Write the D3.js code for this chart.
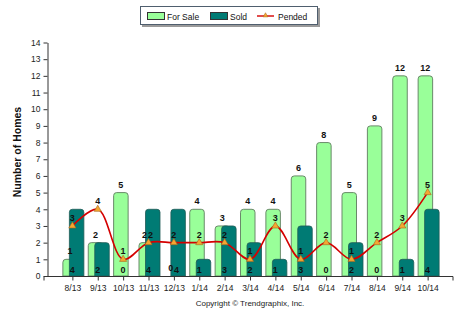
<!DOCTYPE html>
<html><head><meta charset="utf-8">
<script src="https://cdn.jsdelivr.net/npm/d3@7"></script>
<style>body{margin:0;background:#fff}svg{display:block}text{font-family:"Liberation Sans",Arial,sans-serif}</style>
</head><body><svg id="c" width="475" height="324"></svg>
<script>
const categories = ["8/13","9/13","10/13","11/13","12/13","1/14","2/14","3/14","4/14","5/14","6/14","7/14","8/14","9/14","10/14"];
const forSale = [1,2,5,2,0,4,3,4,4,6,8,5,9,12,12];
const sold    = [4,2,0,4,4,1,3,2,1,3,0,2,0,1,4];
const pended  = [3,4,1,2,2,2,2,1,3,1,2,1,2,3,5];
const yTicks = d3.range(0,15);

const svg = d3.select("#c");
const x = d3.scalePoint().domain(categories).range([47,453]).padding(1);
const y = d3.scaleLinear().domain([0,14]).range([276,42.5]);
const greenFill="#99FF99", greenStroke="#6a8a6a", teal="#007B74", tealStroke="#1f5a56";

function topRounded(x0,w,yTop,yBot,r){
  r=Math.min(r,(yBot-yTop),w/2);
  return `M${x0},${yBot}V${yTop+r}Q${x0},${yTop} ${x0+r},${yTop}H${x0+w-r}Q${x0+w},${yTop} ${x0+w},${yTop+r}V${yBot}Z`;
}

// axes
const yAxis = d3.axisLeft(y).tickValues(yTicks).tickSize(4).tickSizeOuter(0);
const gy = svg.append("g").attr("transform","translate(47.5,0)").call(yAxis);
gy.selectAll("text").attr("font-size","8.5px").attr("fill","#222").attr("x",-7);
gy.selectAll("line,path").attr("stroke","#333");

// bars
const bars = svg.append("g");
categories.forEach((c,i)=>{
  const cx=x(c);
  if(forSale[i]>0) bars.append("path").attr("d",topRounded(cx-9.5,14.5,y(forSale[i]),y(0),3))
    .attr("fill",greenFill).attr("stroke",greenStroke).attr("stroke-width",1);
});
categories.forEach((c,i)=>{
  const cx=x(c);
  if(sold[i]>0) bars.append("path").attr("d",topRounded(cx-3,14.5,y(sold[i]),y(0),3))
    .attr("fill",teal).attr("stroke",tealStroke).attr("stroke-width",0.8);
});

const xAxis = d3.axisBottom(x).tickSize(4).tickSizeOuter(4);
const gx = svg.append("g").attr("transform","translate(0,276.5)").call(xAxis);
gx.select("path.domain").attr("d","M44,4V0H453V4");
gx.selectAll("text").attr("font-size","8.5px").attr("fill","#222").attr("dy","0.9em");
gx.selectAll("line,path").attr("stroke","#333");

// pended line
const line = d3.line().x((d,i)=>x(categories[i])).y(d=>y(d)).curve(d3.curveCatmullRom.alpha(0.5));
svg.append("path").attr("d",line(pended)).attr("fill","none").attr("stroke","#D40000").attr("stroke-width",1.6);
const tri = d3.symbol().type(d3.symbolTriangle).size(22);
categories.forEach((c,i)=>{
  svg.append("path").attr("d",tri()).attr("transform",`translate(${x(c)},${y(pended[i])})`)
    .attr("fill","#F4A732").attr("stroke","#A8651a").attr("stroke-width",0.6);
});

// labels
const lab = svg.append("g").attr("font-size","9px").attr("font-weight","bold").attr("fill","#111").attr("text-anchor","middle");
categories.forEach((c,i)=>{
  const cx=x(c);
  const zeroClash = forSale[i]===0;           // for-sale label sits on the sold label
  const pendClash = forSale[i]===pended[i];   // for-sale label sits on the pended label
  let fsx = cx-2.3, sx = cx, px = cx;
  if(zeroClash){ fsx = cx-3.2; sx = cx+2.6; }
  if(pendClash){ fsx = cx-4; px = cx+2; }
  lab.append("text").attr("x",fsx).attr("y",y(forSale[i])-5).text(forSale[i]);
  lab.append("text").attr("x",sx).attr("y",273).text(sold[i]);
  lab.append("text").attr("x",px).attr("y",y(pended[i])-5).text(pended[i]);
});

// y title
svg.append("text").attr("transform","translate(21,152) rotate(-90)").attr("text-anchor","middle")
  .attr("font-size","10.5px").attr("font-weight","bold").attr("fill","#111").text("Number of Homes");

// legend
const lg = svg.append("g");
lg.append("rect").attr("x",142).attr("y",8).attr("width",178).attr("height",19).attr("fill","#9a9a9a");
lg.append("rect").attr("x",140.5).attr("y",6.5).attr("width",177).attr("height",18).attr("fill","#fff").attr("stroke","#4f5e6e");
lg.append("rect").attr("x",147.5).attr("y",12.5).attr("width",17).attr("height",7).attr("fill",greenFill).attr("stroke","#333");
lg.append("text").attr("x",167).attr("y",19.5).attr("font-size","8.5px").attr("fill","#111").text("For Sale");
lg.append("rect").attr("x",210.5).attr("y",12.5).attr("width",17).attr("height",7).attr("fill",teal).attr("stroke","#333");
lg.append("text").attr("x",230).attr("y",19.5).attr("font-size","8.5px").attr("fill","#111").text("Sold");
lg.append("line").attr("x1",257).attr("x2",274).attr("y1",16).attr("y2",16).attr("stroke","#D40000").attr("stroke-width",1.4);
lg.append("path").attr("d",d3.symbol().type(d3.symbolTriangle).size(10)()).attr("transform","translate(265.5,15.5)").attr("fill","#F4A732").attr("stroke","#A8651a").attr("stroke-width",0.5);
lg.append("text").attr("x",278).attr("y",19.5).attr("font-size","8.5px").attr("fill","#111").text("Pended");

// copyright
svg.append("text").attr("x",250).attr("y",306).attr("text-anchor","middle").attr("font-size","8px").attr("fill","#222").text("Copyright \u00A9 Trendgraphix, Inc.");
</script></body></html>
